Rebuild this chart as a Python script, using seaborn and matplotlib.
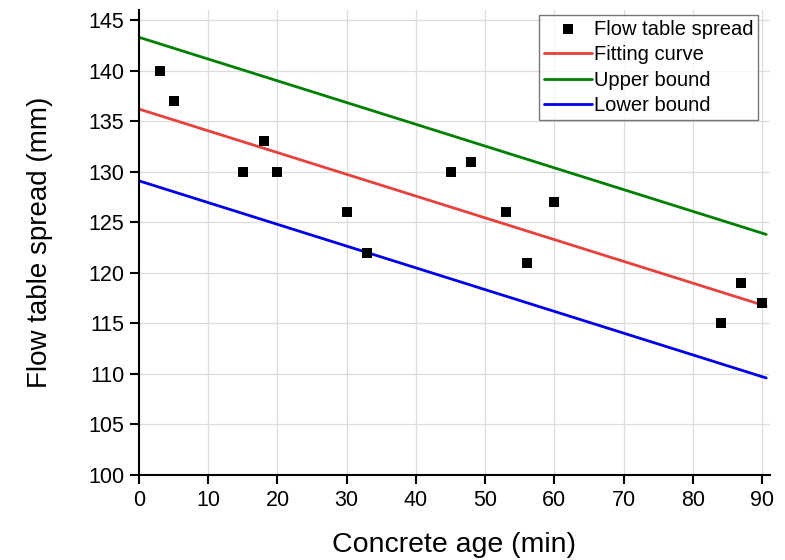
import matplotlib
matplotlib.use("Agg")
import matplotlib.pyplot as plt
import seaborn as sns
import pandas as pd
from matplotlib.ticker import MultipleLocator

age = [3, 5, 15, 18, 20, 30, 33, 45, 48, 53, 56, 60, 84, 87, 90]
spread = [140, 137, 130, 133, 130, 126, 122, 130, 131, 126, 121, 127, 115, 119, 117]

line_x = [0, 90.6]
fit_y = [136.2, 116.7]
upper_y = [143.3, 123.8]
lower_y = [129.1, 109.6]

sns.set_style("white")
plt.rcParams['font.family'] = ['Liberation Sans', 'DejaVu Sans']
plt.rcParams.update({"text.color": "black", "axes.labelcolor": "black",
                     "xtick.color": "black", "ytick.color": "black"})

fig = plt.figure(figsize=(7.85, 5.6), dpi=100)
ax = fig.add_axes([139 / 785, 85 / 560, 631 / 785, 465 / 560])

pts = pd.DataFrame({"age": age, "spread": spread})
sns.scatterplot(data=pts, x="age", y="spread", marker="s", color="black", s=62,
                edgecolor="black", linewidth=0, ax=ax, label="Flow table spread", zorder=5)
sns.lineplot(x=line_x, y=fit_y, color="#e8403a", linewidth=2, ax=ax, label="Fitting curve")
sns.lineplot(x=line_x, y=upper_y, color="#008000", linewidth=2, ax=ax, label="Upper bound")
sns.lineplot(x=line_x, y=lower_y, color="#0000ee", linewidth=2, ax=ax, label="Lower bound")

ax.set_xlim(0, 91.15)
ax.set_ylim(100, 146)
ax.xaxis.set_major_locator(MultipleLocator(10))
ax.xaxis.set_minor_locator(MultipleLocator(5))
ax.yaxis.set_major_locator(MultipleLocator(5))
ax.yaxis.set_minor_locator(MultipleLocator(1))
ax.grid(True, which="major", color="#dcdcdc", linewidth=0.9)
ax.set_axisbelow(True)
for s in ["top", "right"]:
    ax.spines[s].set_visible(False)
for s in ["left", "bottom"]:
    ax.spines[s].set_color("black")
    ax.spines[s].set_linewidth(1.5)
ax.tick_params(which="major", direction="out", length=6.5, width=1.5, labelsize=15.5, color="black", pad=4)
ax.tick_params(which="minor", direction="out", length=3.5, width=1.2, color="black")
ax.tick_params(axis="x", bottom=True)
ax.tick_params(axis="y", left=True)

ax.set_xlabel("Concrete age (min)", fontsize=20.5)
ax.set_ylabel("Flow table spread (mm)", fontsize=20)
ax.xaxis.set_label_coords(0.5, -0.123)
ax.yaxis.set_label_coords(-0.136, 0.5)

leg = ax.legend(loc="upper right", bbox_to_anchor=(0.981, 0.989), fontsize=14.5, frameon=True,
                fancybox=False, edgecolor="#555555", borderaxespad=0, handlelength=2.4,
                handletextpad=0.1, labelspacing=0.33, borderpad=0.22)
leg.get_frame().set_linewidth(1.0)

fig.savefig("out.png", dpi=100)
